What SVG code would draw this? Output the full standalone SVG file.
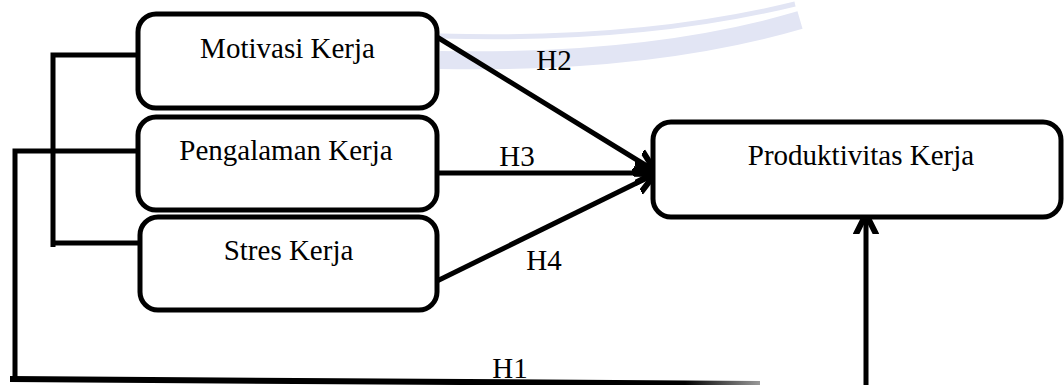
<svg xmlns="http://www.w3.org/2000/svg" width="1064" height="385" viewBox="0 0 1064 385">
<style>
.box{fill:#fff;stroke:#000;stroke-width:5}
.lbl{font-family:"Liberation Serif","Times New Roman",serif;font-size:29px;fill:#000;text-anchor:middle}
.ln{fill:none;stroke:#000;stroke-width:5}
.wm{fill:none;stroke:#e2e5f4}
</style>
<defs>
<marker id="ah" markerUnits="userSpaceOnUse" markerWidth="40" markerHeight="40" viewBox="-20 -20 40 40" refX="0" refY="0" orient="auto">
<path d="M-20,-10 L0,0 L-20,10" fill="none" stroke="#000" stroke-width="6" stroke-linecap="round" stroke-linejoin="round"/>
</marker>
<linearGradient id="fade" x1="10" y1="0" x2="760" y2="0" gradientUnits="userSpaceOnUse">
<stop offset="0" stop-color="#000"/>
<stop offset="0.9" stop-color="#000"/>
<stop offset="1" stop-color="#999"/>
</linearGradient>
</defs>
<g id="watermark">
<path class="wm" stroke-width="5" d="M440 36 Q640 42 795 4"/>
<path class="wm" stroke-width="18" d="M440 60 Q650 64 800 20"/>
</g>
<g id="connectors">
<polyline class="ln" points="138,55 53,55 53,247"/>
<line class="ln" x1="51" y1="243" x2="140" y2="243"/>
<polyline class="ln" points="138,151 15,151 15,380"/>
<line x1="10" y1="379" x2="760" y2="384" stroke="url(#fade)" stroke-width="6"/>
<line class="ln" x1="437" y1="37" x2="655" y2="171" marker-end="url(#ah)"/>
<line class="ln" x1="437" y1="173" x2="655" y2="173" marker-end="url(#ah)"/>
<line class="ln" x1="437" y1="281" x2="655" y2="174" marker-end="url(#ah)"/>
<line class="ln" x1="866" y1="385" x2="866" y2="214" marker-end="url(#ah)"/>
<text class="lbl" x="554" y="70">H2</text>
<text class="lbl" x="517" y="166">H3</text>
<text class="lbl" x="544" y="270">H4</text>
<text class="lbl" x="510" y="378">H1</text>
</g>
<g id="motivasi">
<rect class="box" x="138" y="14" width="299" height="94" rx="18"/>
<text class="lbl" x="287.5" y="58">Motivasi Kerja</text>
</g>
<g id="pengalaman">
<rect class="box" x="138" y="117" width="299" height="93" rx="18"/>
<text class="lbl" x="286" y="160">Pengalaman Kerja</text>
</g>
<g id="stres">
<rect class="box" x="140" y="217" width="297" height="93" rx="18"/>
<text class="lbl" x="288.5" y="260">Stres Kerja</text>
</g>
<g id="produktivitas">
<rect class="box" x="653" y="122" width="408" height="95" rx="18"/>
<text class="lbl" x="861" y="165">Produktivitas Kerja</text>
</g>
</svg>
